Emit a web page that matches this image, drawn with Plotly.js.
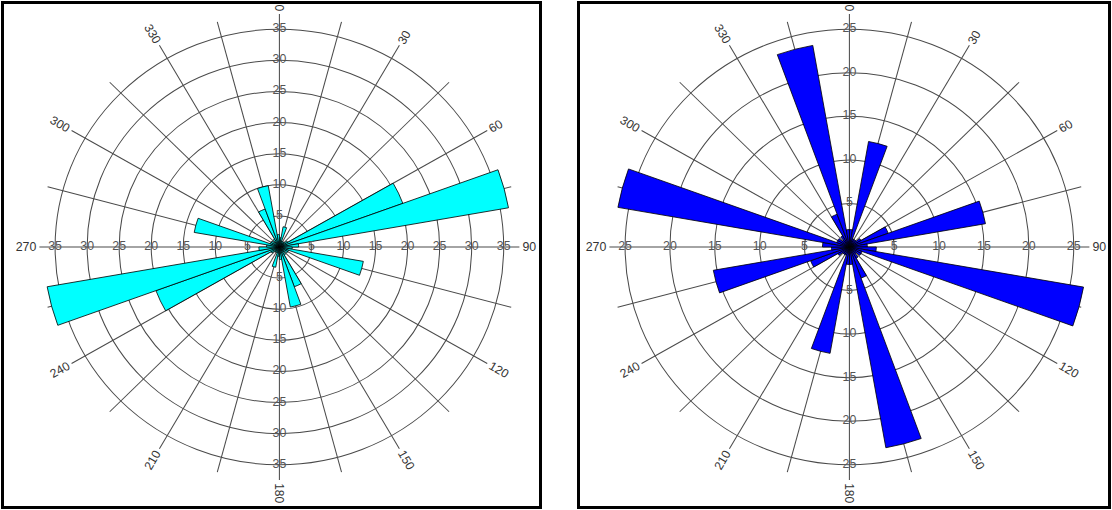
<!DOCTYPE html>
<html><head><meta charset="utf-8">
<script src="https://cdn.plot.ly/plotly-3.0.1.min.js"></script>
<style>
html,body{margin:0;padding:0;width:1112px;height:510px;overflow:hidden;background:#fff;position:relative}
.plot{position:absolute;top:0;width:560px;height:510px;transform-origin:0 0;}
.box{position:absolute;top:1px;height:508px;border:3px solid #000;box-sizing:border-box;pointer-events:none}
</style></head><body>
<div id="pl" class="plot"></div>
<div id="pr" class="plot"></div>
<div class="box" style="left:1px;width:541px"></div>
<div class="box" style="left:577px;width:534px"></div>
<script>
// 10-degree bins, start azimuths (clockwise from north)
const binStart = [0,10,20,30,40,50,60,70,80,90,100,110,120,130,140,150,160,170,
                  180,190,200,210,220,230,240,250,260,270,280,290,300,310,320,330,340,350];
const leftValues = [1.5,3.3,1,1,1,1.5,20.5,36.3,3,2,13.3,1.5,1.5,1,1.5,6.8,9.8,2,
                    1.5,3.3,1,1,1,1.5,20.5,36.8,3.2,2,13.5,1.5,1.5,1,1.5,6.5,10,2];
const rightValues = [2,12.3,1,1,1,1.5,4.6,15.4,2,3,26.5,1.5,1.5,1,1.5,3.8,23.4,2,
                     2,12.4,1,1,1,1.5,4.6,15.4,2,3,26.2,1.5,1.5,1,1.5,4,23.5,2];
const angleTicks = [0,15,30,45,60,75,90,105,120,135,150,165,180,195,210,225,240,255,270,285,300,315,330,345];
const angleLabels = ['0','','30','','60','','90','','120','','150','','180','','210','','240','','270','','300','','330',''];
const leftRings = [5,10,15,20,25,30,35];
const rightRings = [5,10,15,20,25];
const labelDirs = [0,90,180,270];

const K = 1.03;           // horizontal stretch of the original figure
const W = 560, H = 510, CX = 280, CY = 247, ROUT = 233;
const FONT = 'Liberation Sans, Arial, sans-serif';

function angularLabelAnnotations() {
  const anns = [];
  angleTicks.forEach((a, i) => {
    const t = angleLabels[i];
    if (!t) return;
    const rad = a * Math.PI / 180;
    const r = ROUT + 3 + 3.4 * t.length;
    let rot = a - 90;
    if (rot <= -90) rot += 180;
    if (rot > 90) rot -= 180;
    anns.push({
      xref: 'paper', yref: 'paper',
      x: (CX + r * Math.sin(rad)) / W,
      y: (H - CY + r * Math.cos(rad)) / H,
      xanchor: 'center', yanchor: 'middle',
      text: t, textangle: rot, showarrow: false,
      font: {family: FONT, size: 12, color: '#333'}
    });
  });
  return anns;
}

function build(divId, values, color, rings, pageCx) {
  const bars = {
    type: 'barpolar',
    r: values,
    theta: binStart.map(b => b + 5),
    width: binStart.map(() => 10),
    marker: {color: color, line: {color: '#000', width: 0.8}},
    hoverinfo: 'skip'
  };
  const lr = [], lt = [], tx = [];
  labelDirs.forEach(d => rings.forEach(v => { lr.push(v); lt.push(d); tx.push(String(v)); }));
  const labels = {
    type: 'scatterpolar', mode: 'text', r: lr, theta: lt, text: tx,
    textposition: 'middle center',
    textfont: {family: FONT, size: 12, color: '#555'},
    hoverinfo: 'skip', cliponaxis: false
  };
  const rmax = rings[rings.length - 1] * 1.07;
  const layout = {
    width: W, height: H, margin: {l: 0, r: 0, t: 0, b: 0},
    paper_bgcolor: 'rgba(0,0,0,0)', showlegend: false,
    font: {family: FONT},
    annotations: angularLabelAnnotations(),
    polar: {
      domain: {x: [(CX - ROUT) / W, (CX + ROUT) / W], y: [(H - CY - ROUT) / H, (H - CY + ROUT) / H]},
      bgcolor: 'rgba(0,0,0,0)',
      angularaxis: {
        rotation: 90, direction: 'clockwise', tickmode: 'array',
        tickvals: angleTicks, ticktext: angleLabels, showticklabels: false,
        showline: false, gridcolor: '#4a4a4a', gridwidth: 1, ticks: ''
      },
      radialaxis: {
        range: [0, rmax], tickmode: 'array', tickvals: rings,
        showticklabels: false, showline: false, ticks: '',
        gridcolor: '#4a4a4a', gridwidth: 1
      }
    }
  };
  const el = document.getElementById(divId);
  el.style.left = (pageCx - CX * K) + 'px';
  el.style.transform = 'scaleX(' + K + ')';
  Plotly.newPlot(el, [bars, labels], layout, {staticPlot: true, displayModeBar: false});
}
build('pl', leftValues, '#00ffff', leftRings, 279);
build('pr', rightValues, '#0000ff', rightRings, 849);
</script>
</body></html>
